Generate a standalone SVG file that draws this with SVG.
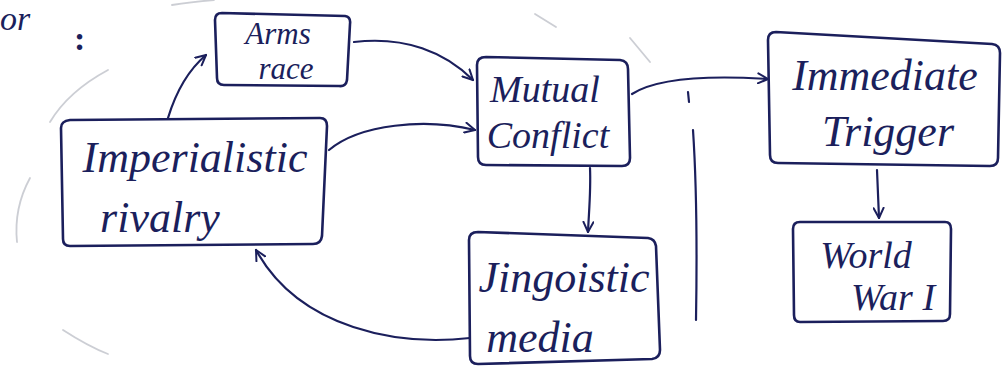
<svg xmlns="http://www.w3.org/2000/svg" width="1004" height="372" viewBox="0 0 1004 372">
<style>
.box{fill:none;stroke:#1b1f5c;stroke-width:2.6;stroke-linejoin:round}
.t{font-family:"Liberation Serif",serif;font-style:italic;font-size:44px;fill:#1b1f5c;text-anchor:middle}
.tm{font-size:38px}
.ts{font-size:31px}
.c{fill:none;stroke:#1b1f5c;stroke-width:2.2;stroke-linecap:round}
.faint{fill:none;stroke:#9a9eaa;stroke-width:1.8;stroke-linecap:round;opacity:0.5}
</style>
<defs>
<marker id="ah" viewBox="0 0 12 12" refX="11" refY="6" markerWidth="12" markerHeight="12" markerUnits="userSpaceOnUse" orient="auto">
<path d="M1,1 L11,6 L1,11" fill="none" stroke="#1b1f5c" stroke-width="2" stroke-linecap="round" stroke-linejoin="round"/>
</marker>
</defs>
<rect width="1004" height="372" fill="#ffffff"/>
<g id="background-marks">
<path class="faint" d="M50,122 C62,102 82,84 108,70"/>
<path class="faint" d="M30,178 C18,200 15,222 17,242"/>
<path class="faint" d="M63,330 C80,341 95,349 108,354"/>
<path class="faint" d="M172,5 C190,2 202,1 214,0"/>
<path class="faint" d="M535,14 L556,27"/>
<path class="faint" d="M630,38 L650,62"/>
</g>
<g id="heading">
<text x="0" y="30" style="font-family:'Liberation Serif',serif;font-style:italic;font-size:34px;fill:#1b1f5c">or</text>
<text x="74" y="50" style="font-family:'Liberation Serif',serif;font-weight:bold;font-size:34px;fill:#1b1f5c">:</text>
</g>
<g id="separator">
<path class="c" d="M688,92 L689,102" stroke-width="1.8"/>
<path class="c" d="M693,130 C697,190 697,260 696,320" stroke-width="1.8"/>
</g>
<g id="connectors">
<path class="c" marker-end="url(#ah)" d="M168,118 C175,95 186,72 206,55"/>
<path class="c" marker-end="url(#ah)" d="M354,42 C405,36 445,52 473,80"/>
<path class="c" marker-end="url(#ah)" d="M329,150 C360,124 425,118 475,130"/>
<path class="c" marker-end="url(#ah)" d="M590,168 C591,190 589,210 588,232"/>
<path class="c" marker-end="url(#ah)" d="M470,338 C400,346 300,330 256,250"/>
<path class="c" marker-end="url(#ah)" d="M632,94 C660,76 720,76 768,79"/>
<path class="c" marker-end="url(#ah)" d="M877,170 L879,218"/>
</g>
<g id="arms-race">
<path class="box" d="M222,13 L345,16 Q351,17 350,24 L347,80 Q346,87 339,86 L224,85 Q217,85 217,78 L215,20 Q215,13 222,13 Z"/>
<text class="t ts" x="278" y="44">Arms</text>
<text class="t ts" x="286" y="79">race</text>
</g>
<g id="imperialistic-rivalry">
<path class="box" d="M70,120 L320,118 Q327,118 327,126 L322,236 Q321,244 313,244 L70,246 Q63,246 63,239 L61,128 Q61,121 70,120 Z"/>
<text class="t" x="195" y="172">Imperialistic</text>
<text class="t" x="160" y="232">rivalry</text>
</g>
<g id="mutual-conflict">
<path class="box" d="M486,57 L620,60 Q628,61 628,69 L630,158 Q630,166 622,166 L486,165 Q478,165 478,157 L477,65 Q477,57 486,57 Z"/>
<text class="t tm" x="545" y="102">Mutual</text>
<text class="t tm" x="548" y="148">Conflict</text>
</g>
<g id="jingoistic-media">
<path class="box" d="M478,232 L648,238 Q655,239 656,246 L660,350 Q660,358 652,359 L478,364 Q470,364 470,356 L469,240 Q469,232 478,232 Z"/>
<text class="t" x="564" y="292">Jingoistic</text>
<text class="t" x="540" y="352">media</text>
</g>
<g id="immediate-trigger">
<path class="box" d="M776,32 L992,44 Q1000,45 1000,53 L998,158 Q998,166 990,166 L778,163 Q770,163 770,155 L768,40 Q768,32 776,32 Z"/>
<text class="t" x="885" y="90">Immediate</text>
<text class="t" x="888" y="146">Trigger</text>
</g>
<g id="world-war-i">
<path class="box" d="M800,222 L945,222 Q951,222 951,229 L950,314 Q950,321 943,321 L800,322 Q794,322 794,315 L793,229 Q793,222 800,222 Z"/>
<text class="t tm" x="866" y="268">World</text>
<text class="t tm" x="893" y="310">War I</text>
</g>
</svg>
